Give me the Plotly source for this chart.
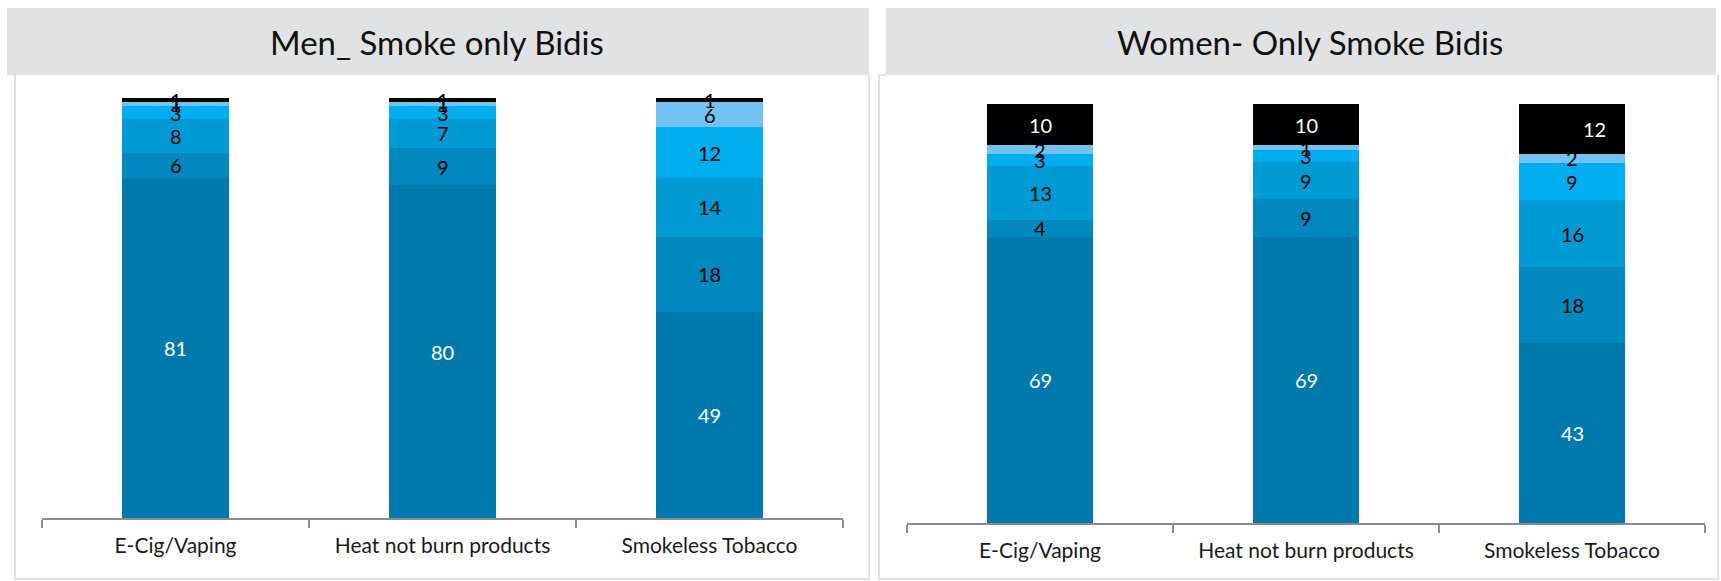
import plotly.graph_objects as go

W, H = 1721, 581

categories = ["E-Cig/Vaping", "Heat not burn products", "Smokeless Tobacco"]

# stacked segments, bottom to top (percent shares)
men_seg1 = [81, 80, 49]
men_seg2 = [6, 9, 18]
men_seg3 = [8, 7, 14]
men_seg4 = [3, 3, 12]
men_seg5 = [1, 1, 6]
men_seg6 = [1, 1, 1]

women_seg1 = [69, 69, 43]
women_seg2 = [4, 9, 18]
women_seg3 = [13, 9, 16]
women_seg4 = [3, 3, 9]
women_seg5 = [2, 1, 2]
women_seg6 = [10, 10, 12]

titles = ["Men_ Smoke only Bidis", "Women- Only Smoke Bidis"]

seg_colors = ["#007AAD", "#0088BF", "#009AD5", "#00ADEE", "#74C2F0", "#000000"]
men_text_colors = ["white", "black", "black", "black", "black", "black"]
women_text_colors = ["white", "black", "black", "black", "black", "white"]

FONT = "Lato"


def px(x):
    return x / W


def py(y):
    return 1 - y / H


fig = go.Figure()

panels = [
    dict(segs=[men_seg1, men_seg2, men_seg3, men_seg4, men_seg5, men_seg6],
         tcol=men_text_colors, xa="x", ya="y"),
    dict(segs=[women_seg1, women_seg2, women_seg3, women_seg4, women_seg5, women_seg6],
         tcol=women_text_colors, xa="x2", ya="y2"),
]

annotations = []
for pi, p in enumerate(panels):
    totals = [sum(s[ci] for s in p["segs"]) for ci in range(len(categories))]
    base = [0, 0, 0]
    for si, seg in enumerate(p["segs"]):
        fig.add_trace(go.Bar(
            x=categories, y=seg, xaxis=p["xa"], yaxis=p["ya"],
            marker=dict(color=seg_colors[si], line=dict(width=0)),
            width=0.40, showlegend=False, cliponaxis=False,
            hoverinfo="x+y",
        ))
        for ci, v in enumerate(seg):
            shift = 22 if (pi == 1 and si == 5 and ci == 2) else 0
            mid = (base[ci] + v / 2) / totals[ci] * 100
            annotations.append(dict(
                x=categories[ci], y=mid,
                xref=p["xa"], yref=p["ya"], text=str(v), showarrow=False,
                xshift=shift,
                font=dict(family=FONT, size=20, color=p["tcol"][si]),
            ))
            base[ci] += v

axis_common = dict(
    type="category", showline=True, linecolor="#8C8C8C", linewidth=2,
    ticks="outside", tickson="boundaries", ticklen=8, tickcolor="#8C8C8C",
    tickwidth=2, showgrid=False, zeroline=False, fixedrange=True,
    tickfont=dict(family=FONT, size=21, color="#1A1A1A"),
    ticklabelstandoff=8,
    range=[-0.5, 2.5],
)

fig.update_layout(
    width=W, height=H, margin=dict(l=0, r=0, t=0, b=0),
    paper_bgcolor="white", plot_bgcolor="rgba(0,0,0,0)",
    barmode="stack", barnorm="percent", bargap=0.6,
    xaxis=dict(domain=[px(42), px(843)], anchor="y", **axis_common),
    yaxis=dict(domain=[py(518), py(77)], range=[0, (518 - 77) / 4.2],
               visible=False, fixedrange=True),
    xaxis2=dict(domain=[px(907), px(1705)], anchor="y2", **axis_common),
    yaxis2=dict(domain=[py(523), py(77)], range=[0, (523 - 77) / 4.19],
                visible=False, fixedrange=True),
    annotations=annotations,
)

band = "#E1E2E4"
border = "#E0E0E0"
shapes = [
    # title bands
    dict(type="rect", xref="paper", yref="paper", x0=px(7), x1=px(869),
         y0=py(75), y1=py(8), fillcolor=band, line=dict(width=0), layer="below"),
    dict(type="rect", xref="paper", yref="paper", x0=px(886), x1=px(1716),
         y0=py(75), y1=py(8), fillcolor=band, line=dict(width=0), layer="below"),
    # panel frames
    dict(type="path", xref="paper", yref="paper",
         path=f"M {px(15)},{py(75)} L {px(15)},{py(579)} L {px(869)},{py(579)} L {px(869)},{py(75)}",
         line=dict(color=border, width=2), layer="below"),
    dict(type="path", xref="paper", yref="paper",
         path=f"M {px(886)},{py(75)} L {px(879)},{py(75)} L {px(879)},{py(579)} L {px(1718)},{py(579)} L {px(1718)},{py(75)}",
         line=dict(color=border, width=2), layer="below"),
]
fig.update_layout(shapes=shapes)

for tx, cx in zip(titles, [437, 1310]):
    fig.add_annotation(x=px(cx), y=py(42), xref="paper", yref="paper",
                       xanchor="center", yanchor="middle",
                       text=tx, showarrow=False,
                       font=dict(family=FONT, size=33, color="#111111"))

fig.write_html("out.html")
